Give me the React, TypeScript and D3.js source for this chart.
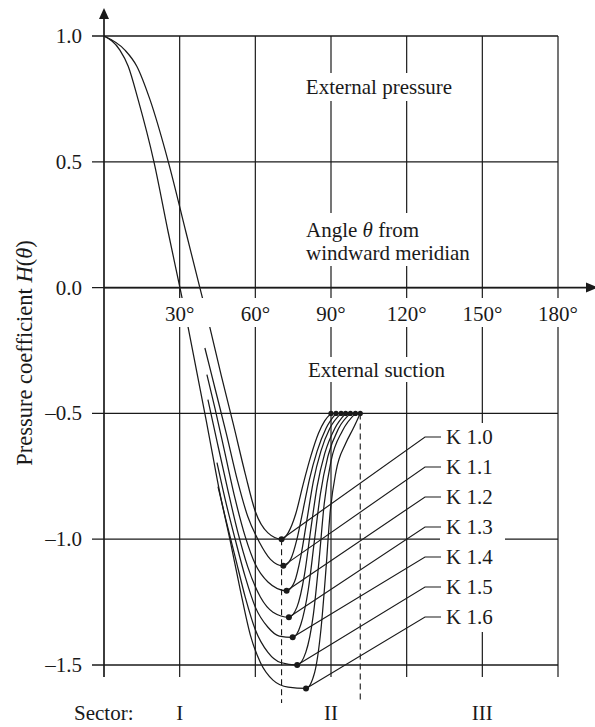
import React from "react";
import * as d3 from "d3";

// angle (deg) vs pressure coefficient
const k10: [number, number][] = [[0, 1], [8.3, 0.944], [13, 0.88], [18.2, 0.748], [25.5, 0.5], [32.5, 0.22], [38, 0], [41.9, -0.155], [46.5, -0.35], [51.2, -0.54], [56, -0.74], [60, -0.89], [65, -0.975], [70.4, -1.0], [73, -0.975], [76, -0.9], [79, -0.78], [82, -0.67], [85, -0.58], [87.5, -0.53], [90, -0.5]];
const k11: [number, number][] = [[40, -0.24], [44, -0.4], [48.5, -0.58], [53, -0.77], [57, -0.91], [61.5, -1.01], [66, -1.08], [71.1, -1.106], [74, -1.08], [76.5, -1.0], [79, -0.88], [81.5, -0.76], [84.5, -0.65], [88, -0.56], [92, -0.5]];
const k12: [number, number][] = [[40.8, -0.346], [44, -0.48], [48, -0.66], [52, -0.84], [56, -0.99], [60, -1.1], [65, -1.17], [72.4, -1.205], [75.5, -1.17], [78, -1.07], [80.5, -0.92], [83, -0.77], [86, -0.65], [89.5, -0.56], [94, -0.5]];
const k13: [number, number][] = [[41.2, -0.445], [45, -0.62], [49, -0.8], [53, -0.97], [57, -1.11], [62, -1.23], [67, -1.29], [73.3, -1.31], [76.5, -1.27], [79.5, -1.14], [82, -0.96], [84.5, -0.79], [87.5, -0.66], [91.5, -0.56], [95.8, -0.5]];
const k14: [number, number][] = [[44.8, -0.696], [48, -0.84], [52, -1.0], [56, -1.15], [60, -1.27], [65, -1.35], [69.5, -1.385], [74.8, -1.39], [78, -1.34], [81, -1.2], [83.5, -1.0], [85.8, -0.82], [88.8, -0.67], [93, -0.56], [97.7, -0.5]];
const k15: [number, number][] = [[45.2, -0.791], [48.5, -0.93], [52, -1.07], [56, -1.23], [60, -1.36], [65, -1.45], [70, -1.49], [76.6, -1.5], [80, -1.45], [83, -1.3], [85.3, -1.08], [87.3, -0.86], [90, -0.69], [94.5, -0.57], [99.7, -0.5]];
const k16: [number, number][] = [[0, 1], [6.3, 0.944], [9.6, 0.88], [13.5, 0.748], [19.8, 0.5], [25.5, 0.218], [30.1, 0], [33.3, -0.155], [41.5, -0.58], [46, -0.82], [49.9, -1.0], [54, -1.2], [58, -1.38], [62, -1.49], [67, -1.56], [73, -1.588], [80.1, -1.593], [83.5, -1.53], [86, -1.36], [88, -1.12], [89.6, -0.9], [92, -0.73], [95.8, -0.62], [98.8, -0.56], [101.6, -0.5]];

const curves = [k10, k11, k12, k13, k14, k15, k16];
const curveLabels = ["K 1.0", "K 1.1", "K 1.2", "K 1.3", "K 1.4", "K 1.5", "K 1.6"];

const xTicks = [30, 60, 90, 120, 150, 180];
const yTicks = [1.0, 0.5, 0.0, -0.5, -1.0, -1.5];
const sectorBounds = [70.4, 101.6];
const sectorNames = ["I", "II", "III"];
const sectorCenters = [30, 90, 150];

const W = 595;
const H = 727;
const font = "'Liberation Serif', 'Times New Roman', serif";
const fs = 21;

export default function App() {
  const x = d3.scaleLinear().domain([0, 180]).range([104, 558]);
  const y = d3.scaleLinear().domain([-1.5, 1]).range([665, 36]);
  const line = d3
    .line<[number, number]>()
    .x((d) => x(d[0]))
    .y((d) => y(d[1]))
    .curve(d3.curveMonotoneX);

  const x0 = x(0);
  const gridBottom = 677;
  const stroke = "#1a1a1a";

  const minOf = (c: [number, number][]) =>
    c.reduce((m, p) => (p[1] < m[1] ? p : m), c[0]);
  const fmt = (t: number) => (t < 0 ? "\u2013" : "") + Math.abs(t).toFixed(1);

  return (
    <svg
      width={W}
      height={H}
      style={{ position: "absolute", left: 0, top: 0, background: "#fff" }}
      fontFamily={font}
    >
      {/* grid */}
      {yTicks.map((t) => (
        <line key={"h" + t} x1={x0 - 12} x2={x(180)} y1={y(t)} y2={y(t)} stroke={stroke} strokeWidth={1.3} />
      ))}
      {xTicks.map((t) => (
        <line key={"v" + t} x1={x(t)} x2={x(t)} y1={y(1)} y2={gridBottom} stroke={stroke} strokeWidth={1.2} />
      ))}

      {/* label knock-outs */}
      <rect x={300} y={73} width={158} height={28} fill="#fff" />
      <rect x={302} y={213} width={176} height={53} fill="#fff" />
      <rect x={304} y={357} width={148} height={25} fill="#fff" />
      <rect x={440} y={423} width={65} height={209} fill="#fff" />

      {/* dashed sector bounds */}
      <line x1={x(sectorBounds[0])} x2={x(sectorBounds[0])} y1={y(-1)} y2={703} stroke={stroke} strokeWidth={1.1} strokeDasharray="6,4" />
      <line x1={x(sectorBounds[1])} x2={x(sectorBounds[1])} y1={y(-0.5)} y2={703} stroke={stroke} strokeWidth={1.1} strokeDasharray="6,4" />

      {/* curves */}
      {curves.map((c, i) => (
        <path key={"c" + i} d={line(c) || ""} fill="none" stroke={stroke} strokeWidth={1.25} />
      ))}

      {/* band behind x tick labels */}
      <rect x={x0 + 1} y={298} width={490} height={29} fill="#fff" />

      {/* axes */}
      <line x1={x0} x2={x0} y1={gridBottom} y2={16} stroke={stroke} strokeWidth={1.7} />
      <path d={`M${x0},8 L${x0 - 5},19 L${x0 + 5},19 Z`} fill={stroke} />
      <line x1={x0} x2={588} y1={y(0)} y2={y(0)} stroke={stroke} strokeWidth={1.7} />
      <path d={`M598,${y(0)} L586,${y(0) - 5} L586,${y(0) + 5} Z`} fill={stroke} />

      {/* end beads, minimum dots, leaders */}
      {curves.map((c, i) => {
        const end = c[c.length - 1];
        const m = minOf(c);
        const ly = 437 + i * 30;
        return (
          <g key={"m" + i}>
            <circle cx={x(end[0])} cy={y(end[1])} r={2.6} fill={stroke} />
            <circle cx={x(m[0])} cy={y(m[1])} r={3} fill={stroke} />
            <polyline
              points={`${x(m[0])},${y(m[1])} 425,${ly} 441,${ly}`}
              fill="none"
              stroke={stroke}
              strokeWidth={1.15}
            />
            <text x={446} y={ly + 7} fontSize={fs} fill={stroke}>
              {curveLabels[i]}
            </text>
          </g>
        );
      })}

      {/* tick labels */}
      {yTicks.map((t) => (
        <text key={"yl" + t} x={82} y={y(t) + 7} fontSize={fs} textAnchor="end" fill={stroke}>
          {fmt(t)}
        </text>
      ))}
      {xTicks.map((t) => (
        <text key={"xl" + t} x={x(t)} y={321} fontSize={fs} textAnchor="middle" fill={stroke}>
          {t + "\u00b0"}
        </text>
      ))}

      {/* annotations */}
      <text x={379} y={94} fontSize={fs} textAnchor="middle" fill={stroke}>
        External pressure
      </text>
      <text x={306} y={237} fontSize={fs} fill={stroke}>
        Angle <tspan fontStyle="italic">θ</tspan> from
      </text>
      <text x={306} y={260} fontSize={fs} fill={stroke}>
        windward meridian
      </text>
      <text x={308} y={377} fontSize={fs} fill={stroke}>
        External suction
      </text>

      <text
        transform={`translate(32,353) rotate(-90)`}
        fontSize={22.5}
        textAnchor="middle"
        fill={stroke}
      >
        Pressure coefficient <tspan fontStyle="italic">H</tspan>(<tspan fontStyle="italic">θ</tspan>)
      </text>

      {/* sectors */}
      <text x={74} y={720} fontSize={fs} fill={stroke}>
        Sector:
      </text>
      {sectorNames.map((s, i) => (
        <text key={s} x={x(sectorCenters[i])} y={720} fontSize={fs} textAnchor="middle" fill={stroke}>
          {s}
        </text>
      ))}
    </svg>
  );
}
